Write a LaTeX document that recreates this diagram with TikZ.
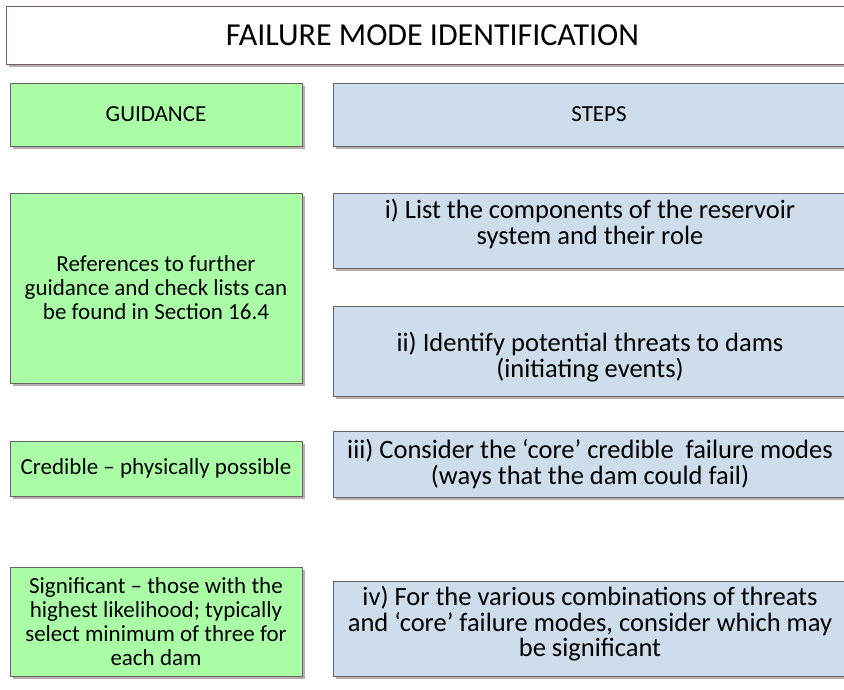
\documentclass[tikz,border=0pt]{standalone}
\usepackage{fontspec}
\setmainfont{Carlito}
\usetikzlibrary{shadows}
\definecolor{greenfill}{RGB}{170,255,166}
\definecolor{bluefill}{RGB}{205,221,235}
\definecolor{boxline}{RGB}{105,100,100}
\definecolor{titleline}{RGB}{115,95,95}
\definecolor{shadowgray}{RGB}{185,175,175}
\tikzset{
  boxbase/.style={rectangle, draw=boxline, line width=0.9pt, inner sep=0pt, align=center,
    drop shadow={shadow xshift=3pt, shadow yshift=-3pt, fill=shadowgray, opacity=1}},
  greenbox/.style={boxbase, fill=greenfill, font=\fontsize{23}{24}\selectfont},
  bluebox/.style={boxbase, fill=bluefill, font=\fontsize{23}{25}\selectfont},
  bluetext/.style={inner sep=0pt, align=center, font=\fontsize{26.5}{25.5}\selectfont},
  titlebox/.style={boxbase, draw=titleline, fill=white, font=\fontsize{32}{34}\selectfont},
}
\begin{document}
\begin{tikzpicture}[x=1pt,y=-1pt]
\useasboundingbox (0,0) rectangle (844,689);
\clip (0,0) rectangle (844,689);
% title
\node[titlebox, minimum width=853pt, minimum height=58pt] (title) at (432.5,35) {FAILURE MODE IDENTIFICATION};
% headers
\node[greenbox, minimum width=292pt, minimum height=63pt] (guid) at (156,114.5) {GUIDANCE};
\node[bluebox, minimum width=532pt, minimum height=63pt] (steps) at (599,114.5) {STEPS};
% guidance
\node[greenbox, minimum width=292pt, minimum height=190pt] (refs) at (156,288) {References to further\\guidance and check lists can\\be found in Section 16.4};
\node[greenbox, minimum width=292pt, minimum height=55pt] (cred) at (156,468.5) {Credible -- physically possible};
\node[greenbox, minimum width=292pt, minimum height=109pt] (sig) at (156,621.5) {Significant -- those with the\\highest likelihood; typically\\select minimum of three for\\each dam};
% steps
\node[bluebox, minimum width=514pt, minimum height=75pt] (s1) at (590,230.5) {};
\node[bluebox, minimum width=514pt, minimum height=90pt] (s2) at (590,351) {};
\node[bluebox, minimum width=514pt, minimum height=66pt] (s3) at (590,464) {};
\node[bluebox, minimum width=514pt, minimum height=95pt] (s4) at (590,628.5) {};
\node[bluetext] (t1) at (590,224) {i) List the components of the reservoir\\system and their role};
\node[bluetext] (t2) at (590,357) {ii) Identify potential threats to dams\\(initiating events)};
\node[bluetext] (t3) at (590,464) {iii) Consider the ‘core’ credible\ \ failure modes\\(ways that the dam could fail)};
\node[bluetext] (t4) at (590,624) {iv) For the various combinations of threats\\and ‘core’ failure modes, consider which may\\be significant};
\end{tikzpicture}
\end{document}
